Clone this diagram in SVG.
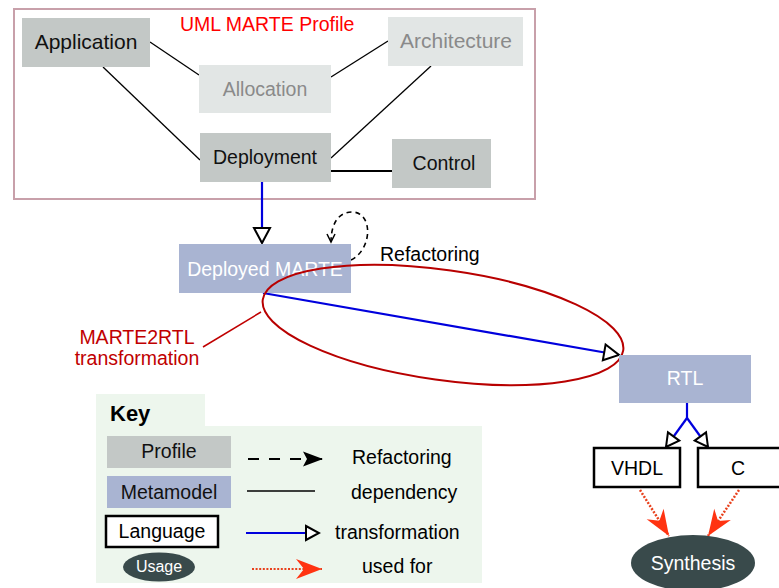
<svg xmlns="http://www.w3.org/2000/svg" width="779" height="588" viewBox="0 0 779 588">
<style>
text{font-family:"Liberation Sans",Arial,sans-serif;font-size:19.5px}
.c{text-anchor:middle}
.big{font-size:21px}
.prof{fill:#c3c8c6}
.light{fill:#e2e6e5}
.meta{fill:#a9b4d2}
.lang{fill:#ffffff;stroke:#000;stroke-width:2.5}
.usage{fill:#394a4b}
.dark{fill:#111}
.grey{fill:#8a8a8a}
.white{fill:#fff}
.dep{stroke:#000;stroke-width:1.3;fill:none}
.tr{stroke:#0000dd;stroke-width:2.2;fill:none}
.uf{stroke:#e8401c;stroke-width:2.5;stroke-dasharray:2 1.6;fill:none}
.rf{stroke:#000;stroke-width:1.6;stroke-dasharray:5 4;fill:none}
</style>
<defs>
<marker id="tri" markerUnits="userSpaceOnUse" viewBox="-17 -10 19 20" markerWidth="19" markerHeight="20" refX="0" refY="0" orient="auto">
<path d="M-15,-8 L0,0 L-15,8 Z" fill="#fff" stroke="#000" stroke-width="2"/>
</marker>
<marker id="triS" markerUnits="userSpaceOnUse" viewBox="-15 -9 17 18" markerWidth="17" markerHeight="18" refX="0" refY="0" orient="auto">
<path d="M-13,-7 L0,0 L-13,7 Z" fill="#fff" stroke="#000" stroke-width="2"/>
</marker>
<marker id="stealth" markerUnits="userSpaceOnUse" viewBox="-27 -11 28 22" markerWidth="28" markerHeight="22" refX="0" refY="0" orient="auto">
<path d="M0,0 L-26,-10 L-18,0 L-26,10 Z" fill="#ff3311"/>
</marker>
<marker id="blk" markerUnits="userSpaceOnUse" viewBox="-21 -8 22 16" markerWidth="22" markerHeight="16" refX="0" refY="0" orient="auto">
<path d="M0,0 L-20,-7.5 L-16,0 L-20,7.5 Z" fill="#000"/>
</marker>
<marker id="vee" markerUnits="userSpaceOnUse" viewBox="-10 -6 12 12" markerWidth="12" markerHeight="12" refX="0" refY="0" orient="auto">
<path d="M-8,-4 L0,0 L-8,4" fill="none" stroke="#000" stroke-width="1.5"/>
</marker>
</defs>

<g id="profile-frame">
<rect x="14" y="9" width="521" height="190" fill="none" stroke="#c8a0aa" stroke-width="2"/>
<text x="180" y="31" fill="#ff0000">UML MARTE Profile</text>
</g>

<g id="connectors">
<line class="dep" x1="150" y1="42" x2="199" y2="75"/>
<line class="dep" x1="388" y1="41" x2="331" y2="77"/>
<line class="dep" x1="103" y1="67" x2="200" y2="160"/>
<line class="dep" x1="431" y1="66" x2="331" y2="158"/>
<line x1="331" y1="171" x2="392" y2="171" stroke="#000" stroke-width="2"/>
<line class="tr" x1="262" y1="182" x2="262" y2="243" marker-end="url(#tri)"/>
<path class="rf" d="M351,260 C373,249 373,212 352,212 C337,212 331,226 331,242" marker-end="url(#vee)"/>
<line class="tr" x1="263" y1="293" x2="619" y2="355" marker-end="url(#tri)"/>
<path class="tr" d="M687,403 V418"/>
<line class="tr" x1="687" y1="418" x2="666" y2="447" marker-end="url(#triS)"/>
<line class="tr" x1="687" y1="418" x2="708" y2="447" marker-end="url(#triS)"/>
<line class="uf" x1="640" y1="490" x2="669" y2="536" marker-end="url(#stealth)"/>
<line class="uf" x1="739" y1="490" x2="708" y2="536" marker-end="url(#stealth)"/>
</g>

<g id="application">
<rect class="prof" x="22" y="18" width="128" height="49"/>
<text class="c dark big" x="86" y="49">Application</text>
</g>
<g id="allocation">
<rect class="light" x="199" y="65" width="132" height="48"/>
<text class="c grey" x="265" y="96">Allocation</text>
</g>
<g id="architecture">
<rect class="light" x="388" y="17" width="135" height="49"/>
<text class="c grey big" x="456" y="48">Architecture</text>
</g>
<g id="deployment">
<rect class="prof" x="200" y="133" width="131" height="49"/>
<text class="c dark" x="265" y="164">Deployment</text>
</g>
<g id="control">
<rect class="prof" x="392" y="139" width="99" height="49"/>
<text class="c dark" x="444" y="170">Control</text>
</g>

<g id="deployed-marte">
<rect class="meta" x="179" y="244" width="172" height="49"/>
<text class="c white" x="265" y="276">Deployed MARTE</text>
</g>
<g id="refactoring-label">
<text x="380" y="261" fill="#000">Refactoring</text>
</g>

<g id="marte2rtl">
<ellipse cx="443" cy="325" rx="182" ry="55" transform="rotate(8 443 325)" fill="none" stroke="#b80000" stroke-width="2"/>
<line x1="203" y1="347" x2="261" y2="312" stroke="#c00000" stroke-width="1.5"/>
<text class="c" x="137" y="344" fill="#c00000">MARTE2RTL</text>
<text class="c" x="137" y="365" fill="#c00000">transformation</text>
</g>

<g id="rtl">
<rect class="meta" x="619" y="355" width="132" height="48"/>
<text class="c white" x="685" y="385">RTL</text>
</g>
<g id="vhdl">
<rect class="lang" x="594" y="448" width="86" height="39"/>
<text class="c" x="637" y="475">VHDL</text>
</g>
<g id="c-lang">
<rect class="lang" x="698" y="448" width="90" height="39"/>
<text class="c" x="738" y="475">C</text>
</g>
<g id="synthesis">
<ellipse class="usage" cx="693" cy="563" rx="62" ry="28"/>
<text class="c white" x="693" y="570">Synthesis</text>
</g>

<g id="key">
<path d="M96,394 H205 V426 H482 V583 H96 Z" fill="#edf6ed"/>
<text x="110" y="421" style="font-weight:bold;font-size:22px">Key</text>
<rect class="prof" x="107" y="436" width="124" height="32"/>
<text class="c dark" x="169" y="458">Profile</text>
<rect class="meta" x="107" y="476" width="124" height="32"/>
<text class="c dark" x="169" y="499">Metamodel</text>
<rect class="lang" x="106" y="516" width="112" height="31"/>
<text class="c" x="162" y="538">Language</text>
<ellipse class="usage" cx="159" cy="567" rx="36" ry="14.5"/>
<text class="c white" x="159" y="572" style="font-size:16px">Usage</text>
<line class="rf" x1="248" y1="459" x2="323" y2="459" style="stroke-width:2;stroke-dasharray:11 10" marker-end="url(#blk)"/>
<line class="dep" x1="247" y1="491" x2="315" y2="491"/>
<line class="tr" x1="246" y1="533" x2="319" y2="533" marker-end="url(#triS)"/>
<line class="uf" x1="252" y1="569" x2="322" y2="569" style="stroke-width:2" marker-end="url(#stealth)"/>
<text x="352" y="464">Refactoring</text>
<text x="351" y="499">dependency</text>
<text x="335" y="539">transformation</text>
<text x="362" y="573">used for</text>
</g>
</svg>
